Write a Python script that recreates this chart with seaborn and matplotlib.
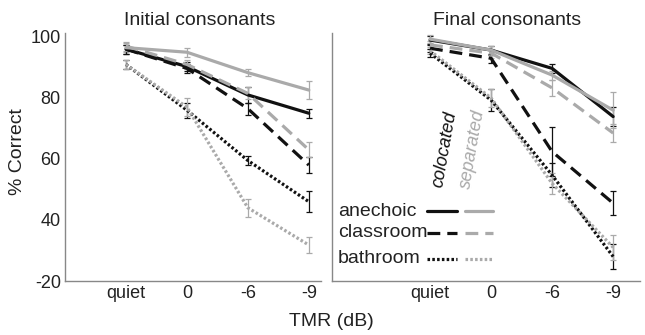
import numpy as np
import pandas as pd
import matplotlib
matplotlib.use('Agg')
import matplotlib.pyplot as plt
import seaborn as sns

# --- data ---
tmr_labels = ['quiet', '0', '-6', '-9']
rooms = ['anechoic', 'classroom', 'bathroom']
conds = ['colocated', 'separated']

# Initial consonants: mean % correct and error half-widths
init_anechoic_col = [96, 90.3, 81, 75]
init_anechoic_sep = [96.5, 95, 88.3, 82.6]
init_classroom_col = [96, 89.7, 76.5, 58]
init_classroom_sep = [97, 91, 81.5, 63]
init_bathroom_col = [91, 76, 59.5, 46]
init_bathroom_sep = [91, 77, 44, 31.8]
init_anechoic_col_err = [1.5, 1.5, 2.5, 1.5]
init_anechoic_sep_err = [1.5, 1.5, 1.2, 3]
init_classroom_col_err = [1.5, 1.5, 2, 2.5]
init_classroom_sep_err = [1.5, 1.5, 2, 2.5]
init_bathroom_col_err = [1.5, 2.5, 1.5, 3.5]
init_bathroom_sep_err = [1.5, 3, 3, 2.5]

# Final consonants
final_anechoic_col = [99, 95.7, 89.7, 73.9]
final_anechoic_sep = [99.3, 95.7, 87.5, 76]
final_classroom_col = [96.3, 93, 62.4, 45.5]
final_classroom_sep = [97.4, 94.7, 83.3, 68.5]
final_bathroom_col = [94.7, 79.3, 54.7, 28]
final_bathroom_sep = [95.5, 80, 52, 31]
final_anechoic_col_err = [1.2, 1.5, 1.5, 3]
final_anechoic_sep_err = [1.2, 1.5, 1.5, 6]
final_classroom_col_err = [1.2, 1.5, 8, 4]
final_classroom_sep_err = [1.2, 1.5, 2.5, 3]
final_bathroom_col_err = [1.2, 3.7, 4, 4]
final_bathroom_sep_err = [1.2, 3, 3.5, 4]

panels = {
    'Initial consonants': {
        ('anechoic', 'colocated'): (init_anechoic_col, init_anechoic_col_err),
        ('anechoic', 'separated'): (init_anechoic_sep, init_anechoic_sep_err),
        ('classroom', 'colocated'): (init_classroom_col, init_classroom_col_err),
        ('classroom', 'separated'): (init_classroom_sep, init_classroom_sep_err),
        ('bathroom', 'colocated'): (init_bathroom_col, init_bathroom_col_err),
        ('bathroom', 'separated'): (init_bathroom_sep, init_bathroom_sep_err),
    },
    'Final consonants': {
        ('anechoic', 'colocated'): (final_anechoic_col, final_anechoic_col_err),
        ('anechoic', 'separated'): (final_anechoic_sep, final_anechoic_sep_err),
        ('classroom', 'colocated'): (final_classroom_col, final_classroom_col_err),
        ('classroom', 'separated'): (final_classroom_sep, final_classroom_sep_err),
        ('bathroom', 'colocated'): (final_bathroom_col, final_bathroom_col_err),
        ('bathroom', 'separated'): (final_bathroom_sep, final_bathroom_sep_err),
    },
}

sns.set_style('white')
plt.rcParams['font.family'] = ['Liberation Sans', 'DejaVu Sans']

colors = {'colocated': '#111111', 'separated': '#aaaaaa'}
dashes = {'anechoic': '', 'classroom': (4, 2.2), 'bathroom': (0.8, 0.7)}
spine_col = '#888888'
text_col = '#222222'

fig = plt.figure(figsize=(6.45, 3.35), dpi=100)
ax1 = fig.add_axes([65 / 645, 54 / 335, 256 / 645, 248 / 335])
ax2 = fig.add_axes([332 / 645, 54 / 335, 308 / 645, 248 / 335])

x = np.arange(len(tmr_labels))
for ax, (title, series) in zip([ax1, ax2], panels.items()):
    rows = []
    for (room, cond), (vals, errs) in series.items():
        for xi, v in zip(x, vals):
            rows.append({'x': xi, 'y': v, 'room': room, 'cond': cond})
    df = pd.DataFrame(rows)
    sns.lineplot(data=df, x='x', y='y', hue='cond', style='room',
                 palette=colors, dashes=dashes, linewidth=2.3,
                 legend=False, ax=ax, zorder=3)
    for (room, cond), (vals, errs) in series.items():
        ax.errorbar(x, vals, yerr=errs, fmt='none', ecolor=colors[cond],
                    elinewidth=0.9, capsize=2, capthick=0.9, zorder=2)

    ax.set_ylim(20, 101.3)
    ax.set_xlabel('')
    ax.set_ylabel('')
    ax.set_xticks(x)
    ax.set_xticklabels(tmr_labels)
    ax.set_yticks([20, 40, 60, 80, 100])
    for s in ['top', 'right']:
        ax.spines[s].set_visible(False)
    for s in ['left', 'bottom']:
        ax.spines[s].set_color(spine_col)
        ax.spines[s].set_linewidth(1.0)
    ax.tick_params(direction='in', length=3, color=spine_col,
                   labelsize=13, labelcolor=text_col, pad=3)

ax1.set_title('Initial consonants', fontsize=14, color=text_col, pad=6, x=0.527)
ax2.set_title('Final consonants', fontsize=14, color=text_col, pad=6, x=0.568)

ax1.set_xlim(-1, 3.2)
ax2.set_xlim(-1.607, 3.44)
ax1.set_yticklabels(['-20', '40', '60', '80', '100'])
ax2.set_yticklabels([])
ax2.set_xticks([-0.62], minor=True)
ax2.tick_params(which='minor', direction='in', length=3, color=spine_col)

fig.text(18 / 645, 1 - 152 / 335, '% Correct', rotation=90, ha='center',
         va='center', fontsize=14, color=text_col)
fig.text(331 / 645, 1 - 322 / 335, 'TMR (dB)', ha='center', va='center',
         fontsize=14, color=text_col)

# hand-made legend
tr = ax2.transAxes
for room, yy in zip(rooms, [0.282, 0.194, 0.089]):
    ax2.text(0.02, yy, room, transform=tr, ha='left', va='center',
             fontsize=14, color=text_col)
    for cond, (x0, x1) in zip(conds, [(0.31, 0.406), (0.432, 0.523)]):
        ln, = ax2.plot([x0, x1], [yy, yy], transform=tr, color=colors[cond],
                       linewidth=2.3)
        if dashes[room]:
            ln.set_dashes(dashes[room])
ax2.text(0.367, 0.53, 'colocated', transform=tr, rotation=80, ha='center',
         va='center', fontsize=13, style='italic', color='#111111')
ax2.text(0.455, 0.53, 'separated', transform=tr, rotation=80, ha='center',
         va='center', fontsize=13, style='italic', color='#aaaaaa')

fig.savefig('out.png', dpi=100)
